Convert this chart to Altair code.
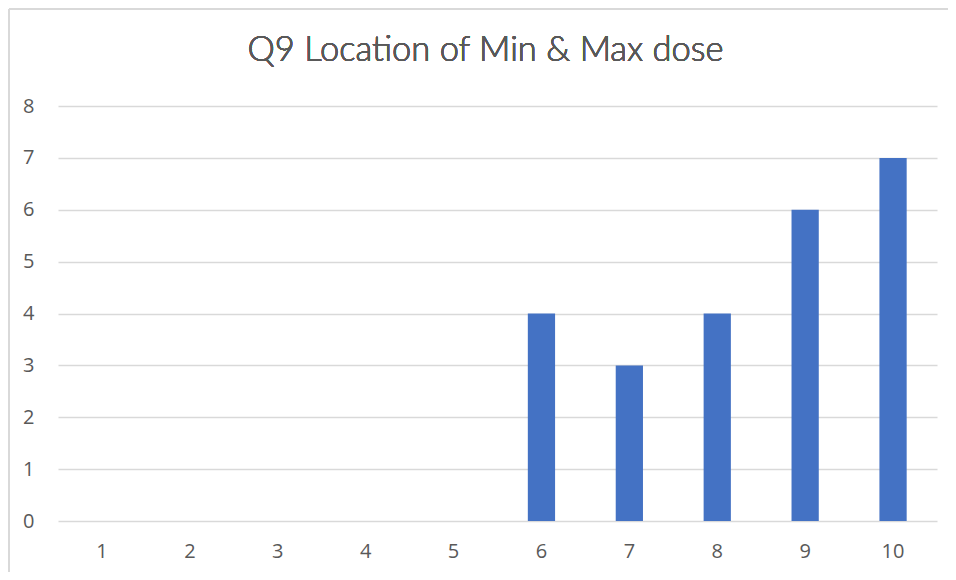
import altair as alt
import pandas as pd

categories = ["1", "2", "3", "4", "5", "6", "7", "8", "9", "10"]
counts = [0, 0, 0, 0, 0, 4, 3, 4, 6, 7]
y_ticks = [0, 1, 2, 3, 4, 5, 6, 7, 8]
title_text = "Q9 Location of Min & Max dose"

df = pd.DataFrame({"cat": categories, "count": counts})

W, H = 879, 415

bars = alt.Chart(df).mark_bar(color="#4472C4").encode(
    x=alt.X("cat:N", sort=categories,
            scale=alt.Scale(paddingInner=0.69, paddingOuter=0.345),
            axis=alt.Axis(title=None, labelAngle=0, domain=False, ticks=False,
                          labelPadding=20, labelFontSize=20, labelColor="#595959",
                          labelFont="Open Sans", grid=False)),
    y=alt.Y("count:Q", scale=alt.Scale(domain=[0, 8], nice=False),
            axis=alt.Axis(title=None, values=y_ticks, domain=False, ticks=False,
                          labelPadding=24, labelFontSize=20, labelColor="#595959",
                          labelFont="Open Sans", grid=True, gridColor="#d9d9d9",
                          gridWidth=1.3)),
)

left_border = alt.Chart(df).mark_rule(color="#d9d9d9", strokeWidth=1.5, clip=False).encode(
    x=alt.value(-49), y=alt.value(-97), y2=alt.value(H + 60)
)
top_border = alt.Chart(df).mark_rule(color="#d9d9d9", strokeWidth=1.5, clip=False).encode(
    x=alt.value(-49), x2=alt.value(W + 20), y=alt.value(-97)
)

title = alt.Chart(df).mark_text(
    text=title_text, font="Lato", fontSize=34.5, fontWeight=300, color="#595959",
    align="center", baseline="alphabetic"
).encode(x=alt.value(W / 2 - 12), y=alt.value(-45))

chart = alt.layer(left_border, top_border, bars, title).properties(
    width=W, height=H,
    autosize=alt.AutoSizeParams(type="none"),
    padding={"left": 50, "top": 98, "right": 11, "bottom": 51},
).configure_view(stroke=None)

chart.save("out.html", embed_options={"renderer": "svg", "actions": False})
